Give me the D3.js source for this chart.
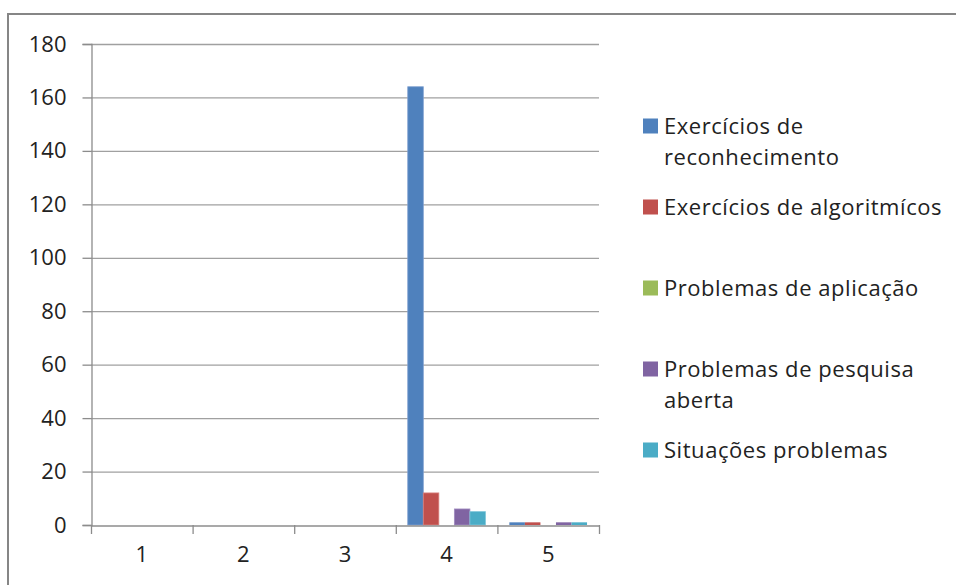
<!DOCTYPE html>
<html>
<head>
<meta charset="utf-8">
<script src="https://cdn.jsdelivr.net/npm/d3@7"></script>
<style>
  body { margin: 0; background: #fff; }
  svg { display: block; font-family: "Open Sans", Lato, sans-serif; }
</style>
</head>
<body>
<div id="chart"></div>
<script>
// data
let categories = ["1", "2", "3", "4", "5"];
let series = ["Exercícios de reconhecimento", "Exercícios de algoritmícos", "Problemas de aplicação", "Problemas de pesquisa aberta", "Situações problemas"];
let legendLines = [["Exercícios de", "reconhecimento"], ["Exercícios de algoritmícos"], ["Problemas de aplicação"], ["Problemas de pesquisa", "aberta"], ["Situações problemas"]];
let colors = ["#4f81bd", "#c0504d", "#9bbb59", "#8064a2", "#4bacc6"];
let strokes = ["#7e9fd0", "#d8807d", "#b9d38a", "#a08cc0", "#7ec6d9"];
let values = [
    [0, 0, 0, 164, 1],
    [0, 0, 0, 12, 1],
    [0, 0, 0, 0, 0],
    [0, 0, 0, 6, 1],
    [0, 0, 0, 5, 1]
];
let yTicks = [0, 20, 40, 60, 80, 100, 120, 140, 160, 180];

let width = 956, height = 585;
let svg = d3.select("#chart").append("svg").attr("width", width).attr("height", height);

// outer chart border (runs off the right and bottom)
svg.append("rect")
    .attr("x", 8).attr("y", 14)
    .attr("width", 1000).attr("height", 700)
    .attr("fill", "none")
    .attr("stroke", "#868686")
    .attr("stroke-width", 2);

let plotLeft = 91, plotRight = 599, plotTop = 44, plotBottom = 525;

let x = d3.scaleBand().domain(categories).range([plotLeft, plotRight]);
let x1 = d3.scaleBand().domain(d3.range(series.length)).range([0, x.bandwidth()]).paddingOuter(0.77);
let y = d3.scaleLinear().domain([0, 180]).range([plotBottom, plotTop]);

// gridlines
svg.append("g").selectAll("line").data(yTicks.filter(t => t > 0)).enter().append("line")
    .attr("x1", plotLeft).attr("x2", plotRight)
    .attr("y1", d => y(d) + 0.5).attr("y2", d => y(d) + 0.5)
    .attr("stroke", "#a0a0a0")
    .attr("stroke-width", 1.3);

// y axis
let yAxis = svg.append("g")
    .attr("transform", `translate(${plotLeft + 0.5},0)`)
    .call(d3.axisLeft(y).tickValues(yTicks).tickSize(9).tickPadding(16));
yAxis.select(".domain").attr("stroke", "#8c8c8c").attr("stroke-width", 1.3);
yAxis.selectAll(".tick line").attr("stroke", "#8c8c8c").attr("stroke-width", 1.3);
yAxis.selectAll(".tick text").attr("font-size", 22).attr("fill", "#222").attr("font-family", "'Open Sans', sans-serif");

// bars
let groups = svg.append("g").selectAll("g").data(series).enter().append("g");
groups.each(function(s, si) {
    d3.select(this).selectAll("rect").data(values[si]).enter().append("rect")
        .attr("x", (d, ci) => x(categories[ci]) + x1(si))
        .attr("width", x1.bandwidth())
        .attr("y", d => y(d))
        .attr("height", d => plotBottom - y(d))
        .attr("fill", colors[si])
        .attr("stroke", d => d > 1 ? strokes[si] : "none")
        .attr("stroke-width", 0.8);
});

// x axis
let xAxis = svg.append("g")
    .attr("transform", `translate(0,${plotBottom + 0.5})`)
    .call(d3.axisBottom(x).tickSize(0).tickPadding(21));
xAxis.select(".domain").attr("stroke", "#8c8c8c").attr("stroke-width", 1.3);
xAxis.selectAll(".tick text").attr("font-size", 22).attr("fill", "#222").attr("font-family", "'Open Sans', sans-serif");
svg.append("g").selectAll("line").data(categories.concat(["end"])).enter().append("line")
    .attr("x1", (d, i) => plotLeft + i * x.step() + 0.5)
    .attr("x2", (d, i) => plotLeft + i * x.step() + 0.5)
    .attr("y1", plotBottom).attr("y2", plotBottom + 9)
    .attr("stroke", "#8c8c8c")
    .attr("stroke-width", 1.3);

// legend
let legend = svg.append("g").selectAll("g").data(series).enter().append("g")
    .attr("transform", (d, i) => `translate(643,${126 + i * 81})`);
legend.append("rect")
    .attr("x", 0).attr("y", -7.5)
    .attr("width", 15).attr("height", 15)
    .attr("fill", (d, i) => colors[i]);
legend.append("text")
    .attr("x", 21)
    .attr("font-size", 22)
    .attr("letter-spacing", 0.55)
    .attr("fill", "#222")
    .selectAll("tspan").data((d, i) => legendLines[i]).enter().append("tspan")
    .attr("x", 21)
    .attr("dy", (d, i) => i === 0 ? "0.35em" : 31)
    .text(d => d);
</script>
</body>
</html>
